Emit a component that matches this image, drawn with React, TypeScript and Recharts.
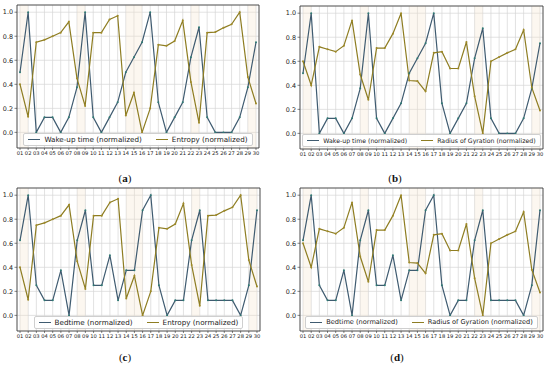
import React from 'react';
import { LineChart, Line, XAxis, YAxis, CartesianGrid, ReferenceArea } from 'recharts';

const days = [1, 2, 3, 4, 5, 6, 7, 8, 9, 10, 11, 12, 13, 14, 15, 16, 17, 18, 19, 20, 21, 22, 23, 24, 25, 26, 27, 28, 29, 30];
const yTicks = [0, 0.2, 0.4, 0.6, 0.8, 1.0];

const wakeUp = [0.5, 1.0, 0.0, 0.125, 0.125, 0.0, 0.125, 0.375, 1.0, 0.125, 0.0, 0.125, 0.25, 0.5, 0.625, 0.75, 1.0, 0.25, 0.0, 0.125, 0.25, 0.625, 0.875, 0.125, 0.0, 0.0, 0.0, 0.125, 0.375, 0.75];
const bedtime = [0.625, 1.0, 0.25, 0.125, 0.125, 0.375, 0.0, 0.625, 0.875, 0.25, 0.25, 0.5, 0.125, 0.375, 0.375, 0.875, 1.0, 0.25, 0.0, 0.125, 0.125, 0.625, 0.875, 0.125, 0.125, 0.125, 0.125, 0.0, 0.25, 0.875];
const entropy = [0.4, 0.13, 0.75, 0.77, 0.8, 0.83, 0.92, 0.45, 0.22, 0.83, 0.83, 0.94, 0.97, 0.14, 0.33, 0.0, 0.2, 0.73, 0.72, 0.76, 0.93, 0.42, 0.08, 0.83, 0.835, 0.87, 0.9, 1.0, 0.46, 0.24];
const gyration = [0.6, 0.4, 0.72, 0.7, 0.68, 0.73, 0.94, 0.49, 0.28, 0.71, 0.71, 0.83, 1.0, 0.44, 0.435, 0.35, 0.67, 0.68, 0.54, 0.54, 0.76, 0.31, 0.0, 0.6, 0.635, 0.67, 0.7, 0.86, 0.38, 0.19];

// weekend / off-day bands
const bands = [[1, 2], [8, 9], [14, 16], [22, 23], [29, 30]];

const BLUE = '#3f5b70';
const OLIVE = '#8e7d22';
const X_DOMAIN = [0.63, 30.37];
const Y_DOMAIN = [-0.13, 1.06];

const tickFont = { fontFamily: 'DejaVu Sans', fill: '#222' };

interface PanelProps {
  left: number;
  top: number;
  width: number;
  yWidth: number;
  marginTop: number;
  marginRight: number;
  a: number[];
  b: number[];
  aName: string;
  bName: string;
  legendFont: number;
  caption: string;
  captionX: number;
  captionY: number;
}

const Panel: React.FC<PanelProps> = ({ left, top, width, yWidth, marginTop, marginRight, a, b, aName, bName, legendFont, caption, captionX, captionY }) => {
  const plotH = 143;
  const xH = 12;
  const height = marginTop + plotH + xH;
  const data = days.map((d, i) => ({ day: d, a: a[i], b: b[i] }));
  const plotLeft = left + yWidth;
  const plotW = width - yWidth - marginRight;
  return (
    <>
      <div style={{ position: 'absolute', left, top }}>
        <LineChart width={width} height={height} data={data} margin={{ top: marginTop, right: marginRight, left: 0, bottom: 0 }}>
          {bands.map(([x1, x2], i) => (
            <ReferenceArea key={i} x1={x1} x2={x2} y1={Y_DOMAIN[0]} y2={Y_DOMAIN[1]} fill="#f6e3cc" fillOpacity={0.3} stroke="none" />
          ))}
          <CartesianGrid stroke="#d6d6d6" strokeWidth={0.7} />
          <XAxis
            dataKey="day"
            type="number"
            domain={X_DOMAIN}
            allowDataOverflow
            ticks={days}
            interval={0}
            tickFormatter={(v: number) => String(v).padStart(2, '0')}
            height={xH}
            tickSize={2}
            tickMargin={1}
            axisLine={false}
            tickLine={{ stroke: '#333', strokeWidth: 0.6 }}
            tick={{ ...tickFont, fontSize: 5.2 }}
          />
          <YAxis
            type="number"
            domain={Y_DOMAIN}
            allowDataOverflow
            ticks={yTicks}
            interval={0}
            tickFormatter={(v: number) => v.toFixed(1)}
            width={yWidth}
            tickSize={2.5}
            tickMargin={1.5}
            axisLine={false}
            tickLine={{ stroke: '#333', strokeWidth: 0.6 }}
            tick={{ ...tickFont, fontSize: 6.4 }}
          />
          <ReferenceArea x1={X_DOMAIN[0]} x2={X_DOMAIN[1]} y1={Y_DOMAIN[0]} y2={Y_DOMAIN[1]} fill="none" stroke="#333" strokeWidth={0.8} />
          <Line dataKey="a" stroke={BLUE} strokeWidth={1.2} dot={{ r: 1, fill: '#2f7a74', stroke: 'none' }} isAnimationActive={false} />
          <Line dataKey="b" stroke={OLIVE} strokeWidth={1.2} dot={{ r: 1, fill: '#a08b28', stroke: 'none' }} isAnimationActive={false} />
        </LineChart>
      </div>
      <div
        style={{
          position: 'absolute',
          left: plotLeft,
          width: plotW,
          top: top + marginTop + plotH - 15,
          display: 'flex',
          justifyContent: 'center',
          pointerEvents: 'none',
        }}
      >
        <div
          style={{
            display: 'flex',
            alignItems: 'center',
            gap: 14,
            background: 'rgba(255,255,255,0.9)',
            border: '0.8px solid #cfcfcf',
            borderRadius: 2,
            padding: '1px 4px',
            fontFamily: 'DejaVu Sans',
            fontSize: legendFont,
            color: '#222',
            lineHeight: '9px',
            whiteSpace: 'nowrap',
            flexShrink: 0,
          }}
        >
          {[{ n: aName, c: BLUE }, { n: bName, c: OLIVE }].map((e) => (
            <div key={e.n} style={{ display: 'flex', alignItems: 'center', gap: 4, flexShrink: 0 }}>
              <span style={{ display: 'inline-block', width: 12, height: 1.3, background: e.c }} />
              <span>{e.n}</span>
            </div>
          ))}
        </div>
      </div>
      <div
        style={{
          position: 'absolute',
          left: captionX - 20,
          width: 40,
          top: captionY - 7,
          textAlign: 'center',
          fontFamily: 'Liberation Serif',
          fontSize: 11,
          color: '#111',
        }}
      >
        (<b>{caption}</b>)
      </div>
    </>
  );
};

export default function App() {
  return (
    <div style={{ position: 'absolute', left: 0, top: 0, width: 550, height: 369, background: '#fff', overflow: 'hidden' }}>
      <Panel left={0} top={0} width={270} yWidth={17} marginTop={5} marginRight={11} a={wakeUp} b={entropy} aName="Wake-up time (normalized)" bName="Entropy (normalized)" legendFont={7.2} caption="a" captionX={125} captionY={179} />
      <Panel left={275} top={0} width={275} yWidth={25} marginTop={6} marginRight={7} a={wakeUp} b={gyration} aName="Wake-up time (normalized)" bName="Radius of Gyration (normalized)" legendFont={6.2} caption="b" captionX={395} captionY={179} />
      <Panel left={0} top={182} width={270} yWidth={17} marginTop={6} marginRight={10} a={bedtime} b={entropy} aName="Bedtime (normalized)" bName="Entropy (normalized)" legendFont={7.2} caption="c" captionX={125} captionY={358} />
      <Panel left={275} top={182} width={275} yWidth={25} marginTop={6} marginRight={7} a={bedtime} b={gyration} aName="Bedtime (normalized)" bName="Radius of Gyration (normalized)" legendFont={6.6} caption="d" captionX={397} captionY={358} />
    </div>
  );
}
